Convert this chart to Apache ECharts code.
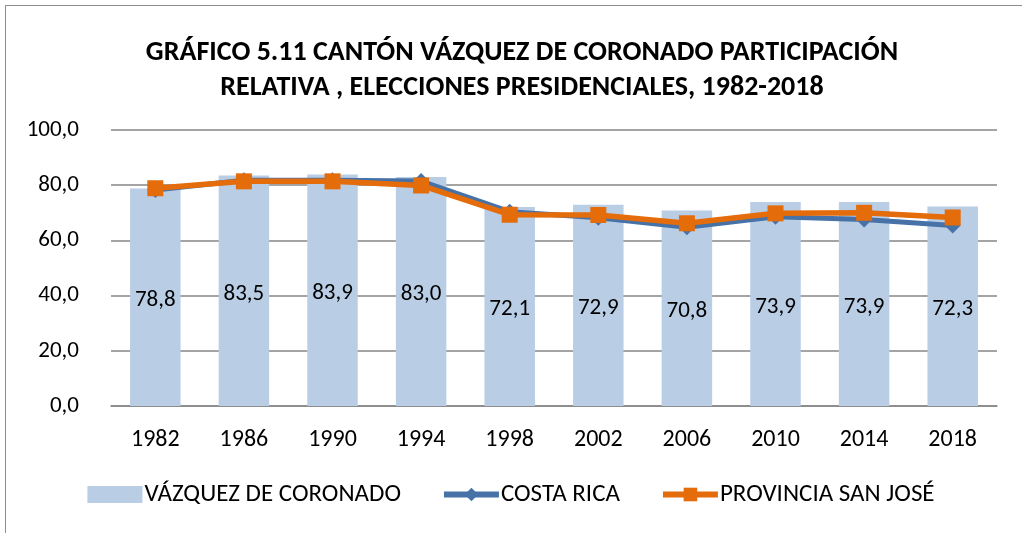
<!DOCTYPE html>
<html style="height: 100%;">
<head>
<meta charset="utf-8">
<title>Gráfico 5.11</title>
<script src="https://cdn.jsdelivr.net/npm/echarts@6/dist/echarts.min.js"></script>
</head>
<body style="margin:0; height:100%; background:#fff;">
<div id="box" style="position:absolute; left:5px; top:5px; width:1030px; height:540px; border:1.5px solid #8c8c8c; box-sizing:border-box;"></div>
<div id="chart" style="position:absolute; left:0; top:0; width:1022px; height:533px;"></div>
<script>
// años de elección
var years = ['1982', '1986', '1990', '1994', '1998', '2002', '2006', '2010', '2014', '2018'];
// participación relativa (%)
var vazquez = [78.8, 83.5, 83.9, 83.0, 72.1, 72.9, 70.8, 73.9, 73.9, 72.3];
var costaRica = [78.3, 81.8, 81.8, 81.5, 70.4, 68.2, 64.8, 68.6, 67.6, 65.4];
var sanJose = [78.9, 81.4, 81.4, 79.9, 69.3, 69.2, 66.2, 69.8, 70.0, 68.3];

var font = 'Carlito, "Liberation Sans Narrow", "Open Sans", sans-serif';

var chart = echarts.init(document.getElementById('chart'));
chart.setOption({
    animation: false,
    title: {
        text: 'GRÁFICO 5.11 CANTÓN VÁZQUEZ DE CORONADO PARTICIPACIÓN\nRELATIVA , ELECCIONES PRESIDENCIALES, 1982-2018',
        left: 517,
        textAlign: 'center',
        top: 30,
        textStyle: {
            fontFamily: font,
            fontSize: 28,
            fontWeight: 'bold',
            color: '#000',
            lineHeight: 35
        }
    },
    legend: {
        bottom: 21,
        left: 'center',
        itemGap: 40,
        itemWidth: 55,
        itemHeight: 17,
        textStyle: { fontFamily: font, fontSize: 25, color: '#000', padding: [0, 0, 0, -3] },
        data: [
            { name: 'VÁZQUEZ DE CORONADO', icon: 'rect', itemStyle: { color: '#b9cde5' } },
            { name: 'COSTA RICA', lineStyle: { width: 6 } },
            { name: 'PROVINCIA SAN JOSÉ', lineStyle: { width: 6 } }
        ]
    },
    grid: { left: 111, right: 25, top: 130, bottom: 127 },
    xAxis: {
        type: 'category',
        data: years,
        axisTick: { show: false },
        axisLine: { lineStyle: { color: '#868686', width: 1.5 } },
        axisLabel: { fontFamily: font, fontSize: 24, color: '#000', margin: 22 }
    },
    yAxis: {
        type: 'value',
        min: 0,
        max: 100,
        interval: 20,
        axisLabel: {
            fontFamily: font, fontSize: 23, color: '#000', margin: 32,
            formatter: function (v) { return v.toFixed(1).replace('.', ','); }
        },
        splitLine: { lineStyle: { color: '#868686', width: 1.5 } }
    },
    series: [
        {
            name: 'VÁZQUEZ DE CORONADO',
            type: 'bar',
            data: vazquez,
            barWidth: '57%',
            itemStyle: { color: '#b9cde5' },
            label: {
                show: true,
                position: 'inside',
                offset: [0, 3],
                fontFamily: font,
                fontSize: 23,
                color: '#000',
                formatter: function (p) { return p.value.toFixed(1).replace('.', ','); }
            }
        },
        {
            name: 'COSTA RICA',
            type: 'line',
            data: costaRica,
            symbol: 'diamond',
            symbolSize: 16,
            lineStyle: { color: '#4672a8', width: 5 },
            itemStyle: { color: '#4672a8' }
        },
        {
            name: 'PROVINCIA SAN JOSÉ',
            type: 'line',
            data: sanJose,
            symbol: 'rect',
            symbolSize: 16,
            lineStyle: { color: '#e46c0a', width: 5.5 },
            itemStyle: { color: '#e46c0a' }
        }
    ]
});
</script>
</body>
</html>
